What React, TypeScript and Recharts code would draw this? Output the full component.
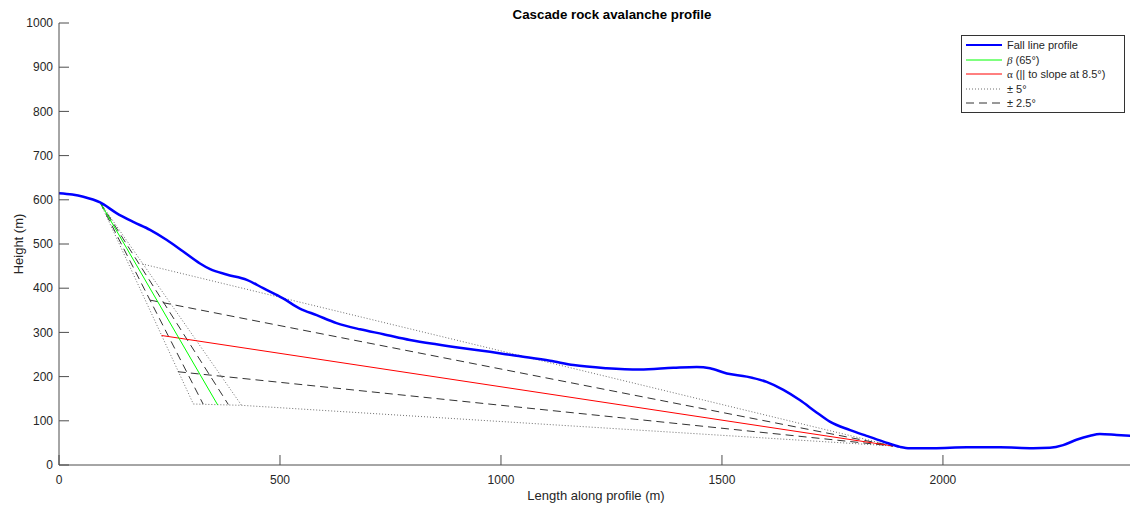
import React from 'react';
import { LineChart, Line, XAxis, YAxis } from 'recharts';

const xTicks = [0, 500, 1000, 1500, 2000];
const yTicks = [0, 100, 200, 300, 400, 500, 600, 700, 800, 900, 1000];

// fall line profile (m)
const profileX = [0, 30, 55, 93, 130, 168, 206, 244, 281, 319, 342, 379, 425, 462, 507, 545, 583, 628, 681, 734, 794, 854, 915, 975, 1035, 1111, 1164, 1239, 1314, 1390, 1443, 1473, 1511, 1556, 1601, 1639, 1676, 1714, 1744, 1790, 1827, 1865, 1903, 1925, 1978, 2054, 2129, 2204, 2242, 2272, 2302, 2333, 2355, 2393, 2430];
const profileY = [615, 612, 607, 594, 570, 550, 532, 509, 483, 456, 443, 431, 419, 400, 377, 354, 339, 321, 307, 296, 283, 273, 264, 256, 247, 236, 226, 219, 216, 220, 222, 219, 207, 200, 188, 170, 147, 119, 98, 79, 66, 53, 41, 38, 38, 40, 40, 38, 39, 45, 57, 66, 70, 68, 66];

// beta lines from the top of the slope
const betaX = [93, 359];
const betaY = [594, 136];
const betaPlus5X = [93, 304];
const betaPlus5Y = [594, 138];
const betaMinus5X = [93, 413];
const betaMinus5Y = [594, 135];
const betaPlus25X = [93, 326];
const betaPlus25Y = [594, 138];
const betaMinus25X = [93, 383];
const betaMinus25Y = [594, 137];

// alpha lines back from the runout point
const alphaX = [232, 1887];
const alphaY = [293, 43];
const alphaPlus25X = [206, 1887];
const alphaPlus25Y = [373, 43];
const alphaMinus25X = [269, 1887];
const alphaMinus25Y = [211, 43];
const alphaPlus5X = [188, 1887];
const alphaPlus5Y = [455, 43];
const alphaMinus5X = [304, 413, 1887];
const alphaMinus5Y = [138, 135, 43];

const pts = (xs: number[], ys: number[]) => xs.map((x, i) => ({ x, y: ys[i] }));

const FONT = 'Arial, "Liberation Sans", Helvetica, sans-serif';
const AXIS = '#4d4d4d';
const DOT = '#707070';
const DASH = '#333333';
const DASHES = '8 5';

function LegendBox() {
  const rows: { label: React.ReactNode; stroke: string; width: number; dash?: string }[] = [
    { label: 'Fall line profile', stroke: '#0000ff', width: 2 },
    { label: <><span style={{ fontFamily: '"Liberation Serif", serif', fontStyle: 'italic' }}>β</span> (65°)</>, stroke: '#00ff00', width: 1 },
    { label: <><span style={{ fontFamily: '"Liberation Serif", serif' }}>α</span> (|| to slope at 8.5°)</>, stroke: '#ff0000', width: 1 },
    { label: '± 5°', stroke: DOT, width: 1, dash: '1 2' },
    { label: '± 2.5°', stroke: DASH, width: 1, dash: DASHES },
  ];
  return (
    <div style={{
      position: 'absolute', left: 961, top: 35, width: 162, height: 76,
      border: '1px solid #333', background: '#fff', fontFamily: FONT, fontSize: 11, color: '#262626',
    }}>
      {rows.map((r, i) => (
        <div key={i} style={{ position: 'absolute', left: 3, top: 2 + i * 14.5, height: 14, display: 'flex', alignItems: 'center' }}>
          <svg width={38} height={14} style={{ marginRight: 4 }}>
            <line x1={1} x2={37} y1={7} y2={7} stroke={r.stroke} strokeWidth={r.width} strokeDasharray={r.dash} />
          </svg>
          <span style={{ whiteSpace: 'nowrap' }}>{r.label}</span>
        </div>
      ))}
    </div>
  );
}

export default function App() {
  const tickStyle = { fontSize: 12, fill: '#262626', fontFamily: FONT };
  const common = { dot: false, isAnimationActive: false, activeDot: false as const, dataKey: 'y' };
  return (
    <div style={{ position: 'relative', width: 1140, height: 506, background: '#fff' }}>
      <style>{`body{margin:0;overflow:hidden;}`}</style>
      <LineChart width={1140} height={506} margin={{ top: 23, right: 7, bottom: 11, left: 9 }}>
        <XAxis
          dataKey="x" type="number" domain={[0, 2430]} ticks={xTicks} allowDataOverflow
          tick={tickStyle} tickSize={-10} tickMargin={20} height={30}
          stroke={AXIS} tickLine={{ stroke: AXIS }} axisLine={{ stroke: AXIS }}
        />
        <XAxis
          xAxisId="top" orientation="top" dataKey="x" type="number" domain={[0, 2430]} ticks={xTicks}
          tick={false} tickSize={-10} height={0} stroke={AXIS}
        />
        <YAxis
          type="number" domain={[0, 1000]} ticks={yTicks} allowDataOverflow
          tick={tickStyle} tickSize={-10} tickMargin={16} width={50}
          stroke={AXIS} tickLine={{ stroke: AXIS }} axisLine={{ stroke: AXIS }}
        />
        <YAxis
          yAxisId="right" orientation="right" type="number" domain={[0, 1000]} ticks={yTicks}
          tick={false} tickSize={-10} width={0} stroke={AXIS}
        />
        <Line {...common} data={pts(betaPlus5X, betaPlus5Y)} type="linear" stroke={DOT} strokeWidth={1} strokeDasharray="1 2" />
        <Line {...common} data={pts(betaMinus5X, betaMinus5Y)} type="linear" stroke={DOT} strokeWidth={1} strokeDasharray="1 2" />
        <Line {...common} data={pts(alphaPlus5X, alphaPlus5Y)} type="linear" stroke={DOT} strokeWidth={1} strokeDasharray="1 2" />
        <Line {...common} data={pts(alphaMinus5X, alphaMinus5Y)} type="linear" stroke={DOT} strokeWidth={1} strokeDasharray="1 2" />
        <Line {...common} data={pts(betaPlus25X, betaPlus25Y)} type="linear" stroke={DASH} strokeWidth={1} strokeDasharray={DASHES} />
        <Line {...common} data={pts(betaMinus25X, betaMinus25Y)} type="linear" stroke={DASH} strokeWidth={1} strokeDasharray={DASHES} />
        <Line {...common} data={pts(alphaPlus25X, alphaPlus25Y)} type="linear" stroke={DASH} strokeWidth={1} strokeDasharray={DASHES} />
        <Line {...common} data={pts(alphaMinus25X, alphaMinus25Y)} type="linear" stroke={DASH} strokeWidth={1} strokeDasharray={DASHES} />
        <Line {...common} data={pts(alphaX, alphaY)} type="linear" stroke="#ff0000" strokeWidth={1} />
        <Line {...common} data={pts(betaX, betaY)} type="linear" stroke="#00ff00" strokeWidth={1} />
        <Line {...common} data={pts(profileX, profileY)} type="monotone" stroke="#0000ff" strokeWidth={2.5} />
      </LineChart>
      <div style={{ position: 'absolute', left: 0, width: 1224, top: 7, textAlign: 'center', fontFamily: FONT, fontSize: 13.3, fontWeight: 'bold', color: '#000' }}>
        Cascade rock avalanche profile
      </div>
      <div style={{ position: 'absolute', left: 0, width: 1192, top: 488, textAlign: 'center', fontFamily: FONT, fontSize: 13, color: '#262626' }}>
        Length along profile (m)
      </div>
      <div style={{ position: 'absolute', left: 18, top: 244, transform: 'translate(-50%, -50%) rotate(-90deg)', whiteSpace: 'nowrap', fontFamily: FONT, fontSize: 13, color: '#262626' }}>
        Height (m)
      </div>
      <LegendBox />
    </div>
  );
}
